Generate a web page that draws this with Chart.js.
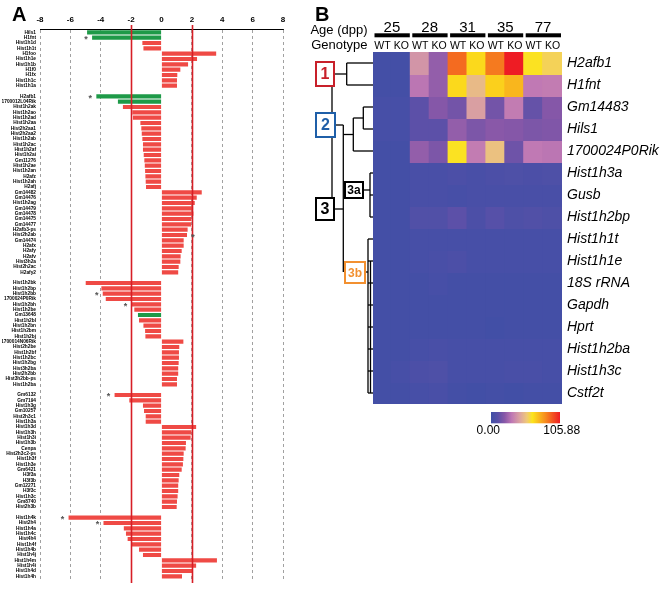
<!DOCTYPE html>
<html>
<head>
<meta charset="utf-8">
<script src="https://cdn.jsdelivr.net/npm/chart.js@4"></script>
<style>
html, body { margin: 0; padding: 0; background: #fff; }
#wrap { position: relative; width: 660px; height: 589px; }
#chartA { position: absolute; left: 0; top: 0; }
#chartB { position: absolute; left: 300px; top: 0; }
</style>
</head>
<body>
<div id="wrap">
  <canvas id="chartA" width="300" height="589"></canvas>
  <canvas id="chartB" width="360" height="589"></canvas>
</div>
<script>
// ---- panel A: fold change per histone gene ----
const h1Genes = ['Hils1','H1fnt','Hist1h1d','Hist1h1t','H1foo','Hist1h1e','Hist1h1b','H1f0','H1fx','Hist1h1c','Hist1h1a']
const h1Fold = [-4.9,-4.57,-1.26,-1.19,3.6,2.34,1.75,1.24,1.04,1.02,1.02]

const h2aGenes = ['H2afb1','1700012L04Rik','Hist1h2ak','Hist1h2ao','Hist1h2ad','Hist1h2aa','Hist2h2aa1','Hist2h2aa2','Hist1h2ab','Hist1h2ac','Hist1h2af','Hist1h2ai','Gm11276','Hist1h2ae','Hist1h2an','H2afz','Hist1h2ah','H2afj','Gm14482','Gm14476','Hist1h2ag','Gm14479','Gm14478','Gm14475','Gm14477','H2afb3-ps','Hist2h2ab','Gm14474','H2afx','H2afy','H2afv','Hist3h2a','Hist2h2ac','H2afy2']
const h2aFold = [-4.29,-2.87,-2.54,-1.92,-1.88,-1.39,-1.33,-1.3,-1.26,-1.22,-1.22,-1.17,-1.13,-1.1,-1.08,-1.06,-1.04,-1.02,2.65,2.32,2.19,2.08,2.1,1.97,1.94,1.72,1.68,1.46,1.46,1.33,1.26,1.24,1.13,1.1]

const h2bGenes = ['Hist1h2bk','Hist1h2bp','Hist1h2bb','1700024P0Rik','Hist1h2bh','Hist1h2be','Gm13648','Hist1h2bl','Hist1h2bn','Hist1h2bm','Hist1h2bj','1700014N06Rik','Hist2h2be','Hist1h2bf','Hist1h2bc','Hist1h2bg','Hist3h2ba','Hist2h2bb','Hist3h2bb-ps','Hist1h2ba']
const h2bFold = [-4.99,-3.96,-3.87,-3.67,-1.97,-1.79,-1.55,-1.48,-1.19,-1.08,-1.06,1.44,1.17,1.15,1.15,1.13,1.1,1.1,1.02,1.02]

const h3Genes = ['Gm6132','Gm7194','Hist1h3g','Gm10257','Hist2h3c1','Hist1h3a','Hist1h3d','Hist1h3h','Hist1h3i','Hist1h3b','Cenpa','Hist2h3c2-ps','Hist1h3f','Hist1h3e','Gm6421','H3f3a','H3f3b','Gm12271','H3f3c','Hist1h3c','Gm8740','Hist2h3b']
const h3Fold = [-3.09,-2.12,-1.22,-1.15,-1.04,-1.04,2.28,1.97,1.92,1.61,1.59,1.46,1.44,1.41,1.33,1.17,1.13,1.1,1.1,1.06,1.02,1.0]

const h4Genes = ['Hist1h4k','Hist2h4','Hist1h4a','Hist1h4c','Hist4h4','Hist1h4f','Hist1h4b','Hist1h4j','Hist1h4m','Hist1h4i','Hist1h4d','Hist1h4h']
const h4Fold = [-6.12,-3.82,-2.48,-2.34,-2.23,-2.01,-1.48,-1.22,3.65,2.28,2.03,1.35]

const greenGenes = ['Hils1','H1fnt','H2afb1','1700012L04Rik','Gm13648']
const starGenes = ['H1fnt','H2afb1','Hist2h2ab','Hist1h2bb','Hist1h2bh','Gm6132','Hist1h4k','Hist2h4']
const foldTicks = [-8,-6,-4,-2,0,2,4,6,8]
const cutoffs = [-2, 2]

// ---- panel B: heatmap ----
const ages = ['25','28','31','35','77']
const genotypes = ['WT','KO']
const heatGenes = ['H2afb1','H1fnt','Gm14483','Hils1','1700024P0Rik','Hist1h3a','Gusb','Hist1h2bp','Hist1h1t','Hist1h1e','18S rRNA','Gapdh','Hprt','Hist1h2ba','Hist1h3c','Cstf2t']
const heatRows = [
  [2,2,40,23,90,66,87,105.88,63,58],
  [2,2,31,23,66,51,68,74,32,33],
  [3,3,11,20,16,43,16,33,13,20],
  [3,3,11,11,23,18,21,20,18,19],
  [2,2,23,18,63,33,53,15,32,31],
  [2,2,4,4,5,4,5,6,5,6],
  [2,2,4,4,3,4,4,4,4,4],
  [2,2,7,7,11,5,9,6,7,6],
  [2,2,3,3,3,3,3,3,3,3],
  [2,2,3,4,5,3,3,3,3,3],
  [2,2,2,3,2,2,2,2,2,2],
  [2,2,2,2,2,2,2,2,2,2],
  [2,2,2,2,2,2,1,2,2,2],
  [2,2,3,4,3,3,3,3,3,3],
  [2,3,5,6,3,3,3,4,4,3],
  [2,2,3,4,2,1,2,1,2,2]
]
const heatMin = 0
const heatMax = 105.88

const heatStops = [
  [0, '#3f4fa6'], [0.1, '#5a50a8'], [0.2, '#8a58a8'], [0.3, '#bf78b4'],
  [0.42, '#dca4a0'], [0.52, '#efc878'], [0.6, '#fce41c'], [0.78, '#f7901e'], [1, '#ee1c24']
]

function hexRgb(h) {
  return [parseInt(h.slice(1,3),16), parseInt(h.slice(3,5),16), parseInt(h.slice(5,7),16)]
}
function heatColor(v) {
  const t = Math.max(0, Math.min(1, (v - heatMin) / (heatMax - heatMin)))
  for (let i = 1; i < heatStops.length; i++) {
    if (t <= heatStops[i][0]) {
      const [t0, c0] = heatStops[i-1], [t1, c1] = heatStops[i]
      const f = (t - t0) / (t1 - t0)
      const a = hexRgb(c0), b = hexRgb(c1)
      const c = a.map((x, k) => Math.round(x + (b[k] - x) * f))
      return `rgb(${c[0]},${c[1]},${c[2]})`
    }
  }
  return heatStops[heatStops.length-1][1]
}

// build the row list for panel A, blank row between families
const groups = [[h1Genes,h1Fold],[h2aGenes,h2aFold],[h2bGenes,h2bFold],[h3Genes,h3Fold],[h4Genes,h4Fold]]
const geneLabels = []
const foldValues = []
groups.forEach(([g, f], i) => {
  if (i > 0) { geneLabels.push(''); foldValues.push(null) }
  g.forEach((name, k) => { geneLabels.push(name); foldValues.push(f[k]) })
})

const panelA = {
  id: 'panelA',
  afterDatasetsDraw(chart) {
    const ctx = chart.ctx
    const x = chart.scales.x, y = chart.scales.y
    ctx.save()
    // cutoff lines
    ctx.strokeStyle = '#d71e26'
    ctx.lineWidth = 1.6
    cutoffs.forEach(c => {
      const px = Math.round(x.getPixelForValue(c)) + 0.5
      ctx.beginPath(); ctx.moveTo(px, 25); ctx.lineTo(px, 583); ctx.stroke()
    })
    // asterisks
    ctx.fillStyle = '#555'
    ctx.font = 'bold 9px Arial'
    ctx.textAlign = 'center'
    ctx.textBaseline = 'middle'
    starGenes.forEach(name => {
      const i = geneLabels.indexOf(name)
      const v = foldValues[i]
      const px = x.getPixelForValue(v) + (v < 0 ? -6 : 6)
      ctx.fillText('*', px, y.getPixelForValue(i) + 2)
    })
    ctx.restore()
  },
  afterDraw(chart) {
    const ctx = chart.ctx
    ctx.save()
    ctx.fillStyle = '#000'
    ctx.font = 'bold 20px Arial'
    ctx.textBaseline = 'alphabetic'
    ctx.fillText('A', 12, 21)
    ctx.restore()
  }
}

new Chart(document.getElementById('chartA'), {
  type: 'bar',
  data: {
    labels: geneLabels,
    datasets: [{
      data: foldValues,
      backgroundColor: geneLabels.map(g => greenGenes.includes(g) ? '#1e9a48' : '#ef4a45'),
      barPercentage: 0.78,
      categoryPercentage: 1
    }]
  },
  options: {
    indexAxis: 'y',
    responsive: false,
    animation: false,
    layout: { padding: { left: 2, right: 17, top: 0, bottom: 10 } },
    plugins: { legend: { display: false }, tooltip: { enabled: false } },
    scales: {
      x: {
        position: 'top',
        min: -8, max: 8,
        afterBuildTicks: s => { s.ticks = foldTicks.map(v => ({ value: v })) },
        afterFit: s => { s.height = 29.7 },
        grid: {
          color: c => c.tick && c.tick.value === 0 ? 'rgba(0,0,0,0)' : '#8a8a8a',
          lineWidth: 0.8,
          drawTicks: false
        },
        border: { display: true, color: '#000', width: 1, dash: [3, 3] },
        ticks: { color: '#000', font: { family: 'Arial', size: 8, weight: 'bold' }, padding: 5 }
      },
      y: {
        afterFit: s => { s.width = 38 },
        grid: { display: false, drawTicks: false },
        border: { display: false },
        ticks: { autoSkip: false, color: '#000', font: { family: 'Arial', size: 4.8, weight: 'bold' }, padding: 4 }
      }
    }
  },
  plugins: [panelA]
})

// ---- panel B ----
const sampleLabels = ages.flatMap(() => genotypes)

function line(ctx, x1, y1, x2, y2) {
  ctx.beginPath(); ctx.moveTo(x1, y1); ctx.lineTo(x2, y2); ctx.stroke()
}
function box(ctx, x, y, w, h, color, text, size) {
  ctx.fillStyle = '#fff'
  ctx.fillRect(x, y, w, h)
  ctx.strokeStyle = color
  ctx.lineWidth = 2
  ctx.strokeRect(x, y, w, h)
  ctx.fillStyle = color
  ctx.font = 'bold ' + size + 'px Arial'
  ctx.textAlign = 'center'
  ctx.textBaseline = 'middle'
  ctx.fillText(text, x + w / 2, y + h / 2 + 1)
}

const panelB = {
  id: 'panelB',
  afterDraw(chart) {
    const ctx = chart.ctx
    const x = chart.scales.x, y = chart.scales.y
    const area = chart.chartArea
    const L = area.left
    const r = i => y.getPixelForValue(i + 0.5)
    ctx.save()

    // titles
    ctx.fillStyle = '#000'
    ctx.font = 'bold 20px Arial'
    ctx.textAlign = 'left'
    ctx.textBaseline = 'alphabetic'
    ctx.fillText('B', 15, 21)
    ctx.font = '13px Arial'
    ctx.textAlign = 'right'
    ctx.textBaseline = 'middle'
    ctx.fillText('Age (dpp)', 67.5, 30.5)
    ctx.fillText('Genotype', 67.5, 45.7)

    // bars under age labels
    const colW = (area.right - area.left) / sampleLabels.length
    ctx.fillStyle = '#000'
    ages.forEach((a, k) => {
      const x1 = x.getPixelForValue(2 * k) - colW / 2 + 1.5
      const x2 = x.getPixelForValue(2 * k + 1) + colW / 2 - 1
      ctx.fillRect(x1, 33.3, x2 - x1, 4)
    })

    // dendrogram
    ctx.strokeStyle = '#000'
    ctx.lineWidth = 1.3
    const m1 = (r(0) + r(1)) / 2
    line(ctx, 32, m1, 32, 209)
    line(ctx, L, r(0), 46.7, r(0)); line(ctx, L, r(1), 46.7, r(1))
    line(ctx, 46.7, r(0), 46.7, r(1)); line(ctx, 46.7, m1, 34, m1)
    const m23 = (r(2) + r(3)) / 2
    line(ctx, L, r(2), 63.3, r(2)); line(ctx, L, r(3), 63.3, r(3))
    line(ctx, 63.3, r(2), 63.3, r(3)); line(ctx, 63.3, m23, 53.3, m23)
    line(ctx, L, r(4), 53.3, r(4)); line(ctx, 53.3, m23, 53.3, r(4))
    const m2 = (m23 + r(4)) / 2
    line(ctx, 53.3, m2, 43.3, m2)
    line(ctx, 43.3, 125, 43.3, 272)
    line(ctx, 35, 125, 43.3, 125)
    line(ctx, 34, 209, 43.3, 209)
    for (let i = 5; i <= 7; i++) line(ctx, L, r(i), 70, r(i))
    line(ctx, 70, r(5), 70, r(7)); line(ctx, 63, 190, 70, 190)
    for (let i = 8; i <= 15; i++) line(ctx, L, r(i), 68, r(i))
    line(ctx, 68, r(8), 68, r(15)); line(ctx, 65, 272, 68, 272)
    line(ctx, 70.5, r(9), 70.5, r(15))

    box(ctx, 16, m1 - 12, 18, 24, '#c8202a', '1', 16)
    box(ctx, 16, 113, 19, 24, '#1f5fa8', '2', 16)
    box(ctx, 16, 198, 18, 22, '#000', '3', 16)
    box(ctx, 45, 182, 18, 16, '#000', '3a', 12)
    box(ctx, 45, 262, 20, 21, '#f29030', '3b', 12)

    // colour bar
    const cbL = 191, cbR = 260, cbT = 412, cbB = 423.3
    const grad = ctx.createLinearGradient(cbL, 0, cbR, 0)
    heatStops.forEach(([t, c]) => grad.addColorStop(t, c))
    ctx.fillStyle = grad
    ctx.fillRect(cbL, cbT, cbR - cbL, cbB - cbT)
    ctx.fillStyle = '#000'
    ctx.font = '12px Arial'
    ctx.textAlign = 'center'
    ctx.textBaseline = 'middle'
    ctx.fillText(heatMin.toFixed(2), 188.3, 431)
    ctx.fillText(heatMax.toFixed(2), 261.7, 431)
    ctx.restore()
  }
}

new Chart(document.getElementById('chartB'), {
  type: 'bar',
  data: {
    labels: sampleLabels,
    datasets: heatGenes.map((g, i) => ({
      label: g,
      data: heatRows[i].map(() => 1),
      backgroundColor: heatRows[i].map(heatColor),
      borderWidth: 0,
      inflateAmount: 1,
      barPercentage: 1,
      categoryPercentage: 1
    }))
  },
  options: {
    responsive: false,
    animation: false,
    layout: { padding: { left: 73, right: 0, top: 21, bottom: 185 } },
    plugins: { legend: { display: false }, tooltip: { enabled: false } },
    scales: {
      x: {
        position: 'top',
        stacked: true,
        weight: 0,
        afterFit: s => { s.height = 13 },
        grid: { display: false, drawTicks: false },
        border: { display: false },
        ticks: { autoSkip: false, maxRotation: 0, color: '#000', font: { family: 'Arial', size: 10.5 }, padding: 0 }
      },
      x2: {
        type: 'category',
        axis: 'x',
        labels: ages,
        position: 'top',
        offset: true,
        weight: 1,
        afterFit: s => { s.height = 18 },
        grid: { display: false, drawTicks: false },
        border: { display: false },
        ticks: { autoSkip: false, maxRotation: 0, color: '#000', font: { family: 'Arial', size: 15 }, padding: 2 }
      },
      y: {
        stacked: true,
        reverse: true,
        min: 0,
        max: heatGenes.length,
        display: false
      },
      y2: {
        type: 'category',
        axis: 'y',
        labels: heatGenes,
        position: 'right',
        offset: true,
        afterFit: s => { s.width = 98 },
        grid: { display: false, drawTicks: false },
        border: { display: false },
        ticks: { autoSkip: false, color: '#000', font: { family: 'Arial', size: 14, style: 'italic' }, padding: 5 }
      }
    }
  },
  plugins: [panelB]
})
</script>
</body>
</html>
